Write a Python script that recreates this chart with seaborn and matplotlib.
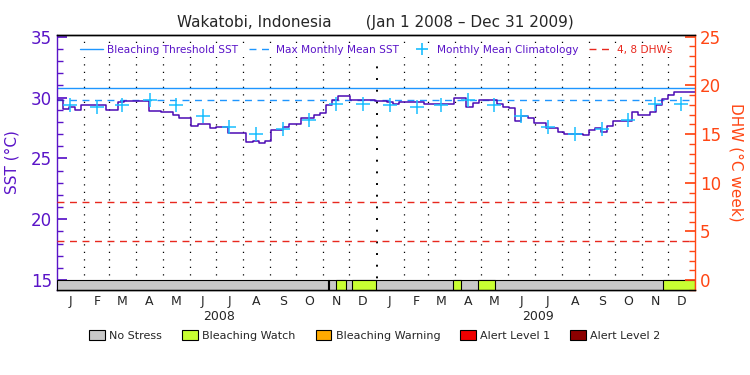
import matplotlib
matplotlib.use('Agg')
import matplotlib.pyplot as plt
import matplotlib.ticker as mticker
from matplotlib.patches import Patch
from matplotlib.lines import Line2D
import seaborn as sns
import numpy as np
import pandas as pd

# weekly SST (°C), starting Jan 1 2008
sst_start = '2008-01-01'
sst_weekly = [
    29.8, 29.1, 29.25, 29.0, 29.35, 29.35, 29.35, 29.35, 29.0, 29.0,
    29.6, 29.7, 29.75, 29.75, 29.7, 28.9, 28.9, 28.85, 28.85, 28.6,
    28.3, 28.3, 27.65, 27.8, 27.8, 27.5, 27.6, 27.62, 27.07, 27.07,
    27.07, 26.35, 26.45, 26.3, 26.4, 27.35, 27.3, 27.62, 27.8, 27.85,
    28.35, 28.35, 28.58, 28.7, 29.35, 29.8, 30.09, 30.09, 29.81, 29.81,
    29.81, 29.81, 29.75, 29.7, 29.66, 29.46, 29.62, 29.62, 29.62, 29.62,
    29.46, 29.46, 29.46, 29.46, 29.46, 30.0, 29.95, 29.2, 29.55, 29.81,
    29.81, 29.81, 29.45, 29.25, 29.15, 28.05, 28.45, 28.3, 27.9, 27.9,
    27.54, 27.54, 27.2, 26.99, 26.99, 26.99, 26.95, 27.35, 27.5, 27.2,
    27.7, 28.09, 28.09, 28.09, 28.8, 28.55, 28.6, 28.85, 29.4, 29.9,
    30.23, 30.45, 30.45, 30.45, 30.45,
]
period_end = '2010-01-01'

# monthly mean climatology (Jan..Dec)
clim_values = [29.4, 29.2, 29.35, 29.8, 29.35, 28.45, 27.55, 27.0, 27.4, 28.15, 29.5, 29.5]

bleaching_threshold = 30.8
max_monthly_mean = 29.8
dhw_levels = [4, 8]

# bleaching watch periods (all other days: no stress)
watch_start = ['2008-11-06', '2008-11-16', '2008-12-04', '2009-03-29', '2009-04-27', '2009-11-25']
watch_end = ['2008-11-08', '2008-11-27', '2008-12-31', '2009-04-08', '2009-05-17', '2010-01-01']

month_letters = list('JFMAMJJASOND')
years = ['2008', '2009']

stress_names = ['No Stress', 'Bleaching Watch', 'Bleaching Warning', 'Alert Level 1', 'Alert Level 2']
stress_colors = ['#C8C8C8', '#C8FF32', '#FFAA00', '#F00000', '#8C0000']

purple = '#5A14C8'
line_purple = '#4B0AB4'
blue = '#1E96FF'
cross_blue = '#19BEFF'
orange = '#FF4614'
red_dash = '#E8281E'

sns.set_theme(style='white')
plt.rcParams['font.family'] = ['DejaVu Sans']

fig = plt.figure(figsize=(7.5, 3.75), dpi=100)
ax = fig.add_axes([0.076, 0.227, 0.851, 0.68])
ax2 = ax.twinx()

ymin, ymax = 14.2, 35.15
ax.set_ylim(ymin, ymax)
ax2.set_ylim((ymin - 15) * 1.25, (ymax - 15) * 1.25)
t0, t1 = pd.Timestamp(sst_start), pd.Timestamp(period_end)
ax.set_xlim(t0, t1)

# month dividers
month_starts = pd.date_range(sst_start, periods=25, freq='MS')
for d in month_starts[1:-1]:
    lw = 1.4 if d.month == 1 else 0.9
    ax.axvline(d, color='black', ls=(0, (1, 5)), lw=lw, zorder=1)

# stress bar
ax.bar(t0, 15 - ymin, width=(t1 - t0).days, bottom=ymin, align='edge',
       color=stress_colors[0], edgecolor='black', lw=0.8, zorder=3)
for s, e in zip(watch_start, watch_end):
    s, e = pd.Timestamp(s), pd.Timestamp(e)
    ax.bar(s, 15 - ymin, width=(e - s).days, bottom=ymin, align='edge',
           color=stress_colors[1], edgecolor='black', lw=0.8, zorder=4)

# reference lines
ax.axhline(bleaching_threshold, color=blue, lw=1.0, zorder=2)
ax.axhline(max_monthly_mean, color=blue, lw=1.0, ls=(0, (5, 4)), zorder=2)
for lvl in dhw_levels:
    ax2.axhline(lvl, color=red_dash, lw=1.0, ls=(0, (5, 4)))

# SST series
dates = list(pd.date_range(sst_start, periods=len(sst_weekly), freq='7D')) + [t1]
df = pd.DataFrame({'date': dates, 'sst': sst_weekly + [sst_weekly[-1]]})
sns.lineplot(data=df, x='date', y='sst', drawstyle='steps-post', color=line_purple,
             lw=1.1, ax=ax, zorder=5)

# climatology crosses
clim_dates = month_starts[:-1] + pd.Timedelta(days=15)
clim_df = pd.DataFrame({'date': clim_dates, 'clim': clim_values * 2})
sns.scatterplot(data=clim_df, x='date', y='clim', marker='+', s=90, color=cross_blue,
                linewidth=1.1, ax=ax, zorder=6)

# axes styling
ax.set_xticks(clim_dates)
ax.set_xticklabels(month_letters * 2, fontsize=9)
ax.tick_params(axis='x', length=0, pad=4)
for i, y in enumerate(years):
    ax.text(pd.Timestamp(f'{y}-07-05'), -0.105, y, transform=ax.get_xaxis_transform(),
            ha='center', va='center', fontsize=9)
ax.set_xlabel('')
ax.set_ylabel('SST (°C)', color=purple, fontsize=11, labelpad=8)
ax.yaxis.set_major_locator(mticker.MultipleLocator(5))
ax.yaxis.set_minor_locator(mticker.MultipleLocator(1))
ax.tick_params(axis='y', which='major', direction='in', length=7, colors=purple, labelsize=12, left=True)
ax.tick_params(axis='y', which='minor', direction='in', length=4, colors=purple, left=True)

ax2.set_ylabel('DHW (°C week)', color=orange, fontsize=11, rotation=270, labelpad=16)
ax2.yaxis.set_major_locator(mticker.MultipleLocator(5))
ax2.yaxis.set_minor_locator(mticker.MultipleLocator(1))
ax2.tick_params(axis='y', which='major', direction='in', length=7, colors=orange, labelsize=12, right=True)
ax2.tick_params(axis='y', which='minor', direction='in', length=4, colors=orange, right=True)

for a in (ax, ax2):
    for sp in a.spines.values():
        sp.set_color('black')
        sp.set_linewidth(1.0)
ax.spines['left'].set_color(purple)
ax2.spines['right'].set_color(orange)
ax2.spines['left'].set_visible(False)
ax.spines['right'].set_visible(False)

# top legend
handles = [
    Line2D([], [], color=blue, lw=1.0),
    Line2D([], [], color=blue, lw=1.0, ls=(0, (5, 4))),
    Line2D([], [], color=cross_blue, marker='+', ls='none', markersize=8, mew=1.2),
    Line2D([], [], color=red_dash, lw=1.0, ls=(0, (5, 4))),
]
labels = ['Bleaching Threshold SST', 'Max Monthly Mean SST', 'Monthly Mean Climatology', '4, 8 DHWs']
leg = ax2.legend(handles, labels, loc='upper center', bbox_to_anchor=(0.5, 0.99), ncol=4,
                 fontsize=7.6, handlelength=2.2, columnspacing=1.0, handletextpad=0.4,
                 frameon=True, facecolor='white', edgecolor='none', framealpha=1,
                 borderpad=0.2, fancybox=False)
for i, t in enumerate(leg.get_texts()):
    t.set_color(red_dash if i == 3 else purple)

# stress legend
patches = [Patch(facecolor=c, edgecolor='black', lw=0.8) for c in stress_colors]
fig.legend(patches, stress_names, loc='center', bbox_to_anchor=(0.5, 0.105), ncol=5,
           frameon=False, fontsize=8, handlelength=1.4, handleheight=1.0,
           columnspacing=1.8, handletextpad=0.4)

fig.suptitle('Wakatobi, Indonesia       (Jan 1 2008 \u2013 Dec 31 2009)', y=0.96, fontsize=11)

fig.savefig('out.png', dpi=100)
